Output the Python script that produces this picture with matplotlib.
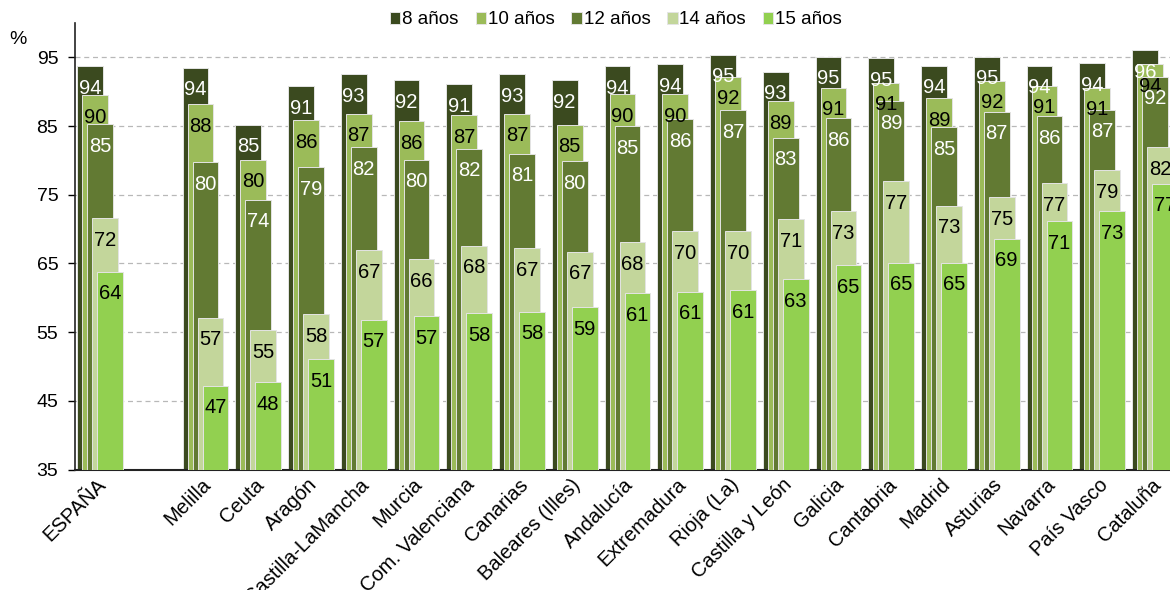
import numpy as np
import matplotlib
matplotlib.use("Agg")
import matplotlib.pyplot as plt

plt.rcParams["font.family"] = ["Liberation Sans", "DejaVu Sans"]

# categories (empty slot after ESPAÑA keeps the gap)
regions = ["ESPAÑA", "", "Melilla", "Ceuta", "Aragón", "Castilla-LaMancha", "Murcia",
           "Com. Valenciana", "Canarias", "Baleares (Illes)", "Andalucía", "Extremadura",
           "Rioja (La)", "Castilla y León", "Galicia", "Cantabria", "Madrid", "Asturias",
           "Navarra", "País Vasco", "Cataluña"]

age8 = [93.7, None, 93.5, 85.2, 90.8, 92.6, 91.7, 91.1, 92.6, 91.7, 93.7, 94.0,
        95.4, 92.9, 95.1, 94.9, 93.8, 95.1, 93.8, 94.2, 96.0]
age10 = [89.5, None, 88.2, 80.1, 85.9, 86.8, 85.7, 86.6, 86.8, 85.2, 89.6, 89.6,
         92.2, 88.6, 90.6, 91.3, 89.1, 91.6, 90.9, 90.6, 94.0]
age12 = [85.3, None, 79.7, 74.3, 79.0, 81.9, 80.1, 81.7, 81.0, 79.9, 85.0, 86.0,
         87.3, 83.3, 86.2, 88.6, 84.8, 87.1, 86.4, 87.4, 92.2]
age14 = [71.6, None, 57.1, 55.3, 57.6, 66.9, 65.6, 67.6, 67.2, 66.7, 68.1, 69.7,
         69.7, 71.4, 72.6, 77.0, 73.4, 74.6, 76.7, 78.6, 81.9]
age15 = [63.8, None, 47.2, 47.7, 51.1, 56.8, 57.3, 57.8, 58.0, 58.6, 60.7, 60.9,
         61.1, 62.7, 64.7, 65.1, 65.1, 68.6, 71.2, 72.6, 76.6]

series = ["8 años", "10 años", "12 años", "14 años", "15 años"]
colors = ["#3B4A1F", "#9BBB59", "#627A33", "#C3D69B", "#92D050"]
label_colors = ["white", "black", "white", "black", "black"]

fig = plt.figure(figsize=(11.7, 5.9), dpi=100)
ax = fig.add_axes([75 / 1170, 1 - 469.5 / 590, 1 - 75 / 1170, (469.5 - 23) / 590])

x = np.arange(len(regions))
width = 0.49
step = 0.095

for k, (vals, name) in enumerate(zip([age8, age10, age12, age14, age15], series)):
    idx = [i for i, v in enumerate(vals) if v is not None]
    v = np.array([vals[i] for i in idx])
    xs = x[idx] + k * step
    ax.bar(xs, v - 35, bottom=35, width=width, align="edge", color=colors[k],
           edgecolor="#e4e4e4", linewidth=0.7, label=name, zorder=2 + k)
    for xi, vi in zip(xs, v):
        ax.annotate(f"{vi:.0f}", (xi + width / 2, vi), xytext=(0, -16),
                    textcoords="offset points", ha="center", va="center",
                    fontsize=14.5, color=label_colors[k], zorder=10 + k)

ax.set_ylim(35, 100)
ax.set_xlim(-0.038, 20.72)
ax.set_yticks(range(35, 96, 10))
ax.tick_params(axis="y", labelsize=14, length=5, width=1, direction="out", pad=7)
ax.set_xticks(x + 0.36)
ax.set_xticklabels(regions, rotation=45, ha="right", va="top", rotation_mode="anchor",
                   fontsize=14.5)
ax.tick_params(axis="x", length=0, pad=4)
ax.yaxis.grid(True, linestyle=(0, (4, 3)), color="#b8b8b8", linewidth=0.9, zorder=0)
ax.set_axisbelow(True)
for s in ["top", "right"]:
    ax.spines[s].set_visible(False)
ax.spines["left"].set_color("#222222")
ax.spines["bottom"].set_color("#222222")
ax.spines["bottom"].set_linewidth(1.5)
ax.spines["left"].set_linewidth(1.2)

fig.text(18 / 1170, 1 - 40 / 590, "%", fontsize=14, ha="center", va="center")

fig.legend(loc="center", bbox_to_anchor=(616 / 1170, 1 - 20 / 590), ncol=5,
           frameon=False, fontsize=13.5, handlelength=0.55, handleheight=0.55,
           handletextpad=0.1, columnspacing=0.9, borderaxespad=0)

fig.savefig("out.png", dpi=100)
